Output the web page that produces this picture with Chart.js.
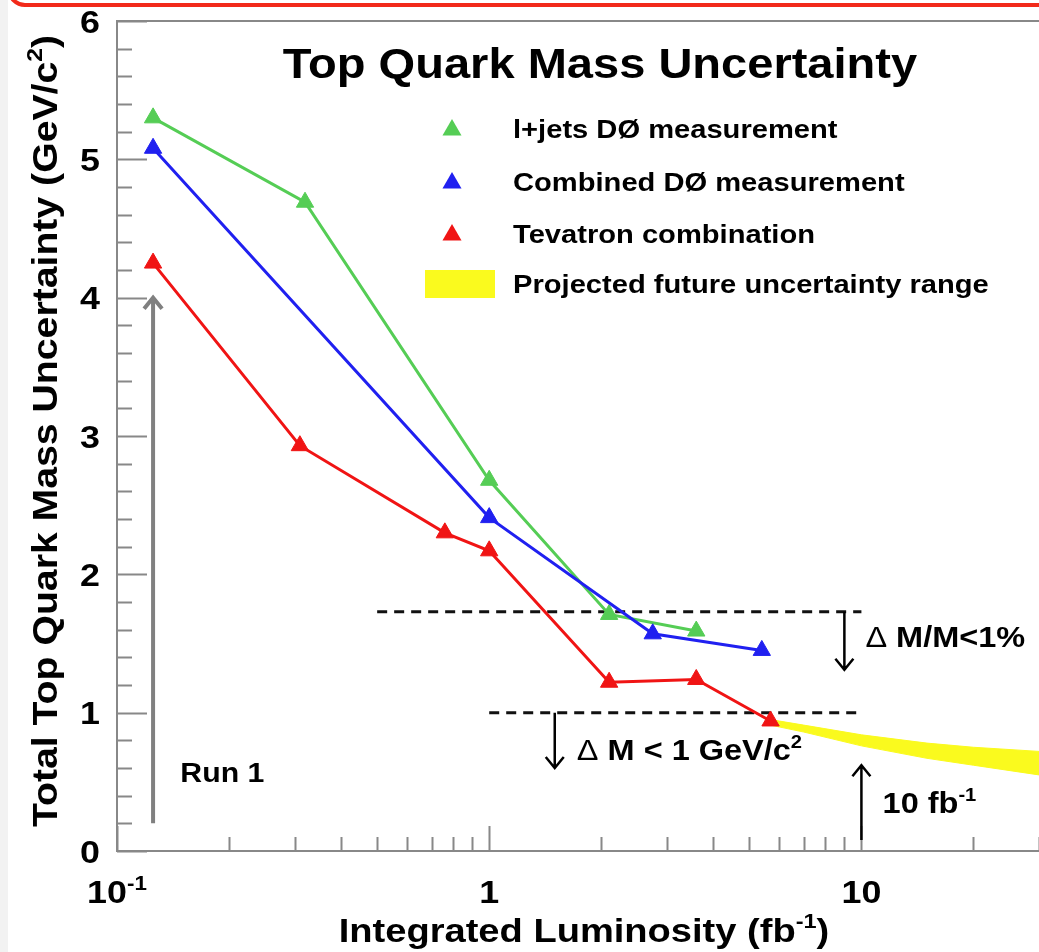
<!DOCTYPE html>
<html>
<head>
<meta charset="utf-8">
<script src="https://cdn.jsdelivr.net/npm/chart.js@4.4.0/dist/chart.umd.min.js"></script>
<style>
  html, body { margin: 0; padding: 0; background: #fff; }
  #wrap { position: relative; width: 1039px; height: 952px; overflow: hidden; }
  #chart { position: absolute; left: 0; top: 0; }
  #edge { position: absolute; left: 0; top: 0; width: 8px; height: 952px; background: #f2f2f2; }
  #frame { position: absolute; left: 7px; top: -60px; width: 1100px; height: 59px;
           border: 4px solid #f22a1a; border-radius: 18px; }
</style>
</head>
<body>
<div id="wrap">
  <canvas id="chart" width="1039" height="952"></canvas>
  <div id="edge"></div>
  <div id="frame"></div>
</div>
<script>
// luminosity (fb^-1) and total uncertainty (GeV/c^2) per measurement
const ljetsLumi = [0.125, 0.32, 1.0, 2.1, 3.6];
const ljetsErr  = [5.30, 4.69, 2.68, 1.71, 1.59];
const combLumi  = [0.125, 1.0, 2.75, 5.4];
const combErr   = [5.08, 2.41, 1.57, 1.45];
const tevLumi   = [0.125, 0.31, 0.76, 1.0, 2.1, 3.6, 5.7];
const tevErr    = [4.25, 2.93, 2.30, 2.17, 1.22, 1.24, 0.94];

// projected band
const bandLumi = [5.7, 7, 10, 15, 20, 30];
const bandHigh = [0.95, 0.91, 0.84, 0.78, 0.75, 0.72];
const bandLow  = [0.91, 0.86, 0.76, 0.67, 0.62, 0.55];

// reference limits
const relLimit = 1.73, relFrom = 0.5;
const absLimit = 1.0,  absFrom = 1.0;
const limitTo = 10;

const seriesNames = ['l+jets DØ measurement', 'Combined DØ measurement',
                     'Tevatron combination', 'Projected future uncertainty range'];
const yTickValues = [0, 1, 2, 3, 4, 5, 6];
const xTickValues = [0.1, 1, 10];
const xTickBase   = ['10', '1', '10'];
const xTickSup    = ['-1', '', ''];

const GREEN = '#55cd55', BLUE = '#2020f0', RED = '#f01414', YELLOW = '#fafa1e';
const FONT = '"Liberation Sans", Arial, Helvetica, sans-serif';
const STRETCH = 1.12;

const pts = (xs, ys) => xs.map((x, i) => ({ x, y: ys[i] }));

function fontOf(kind, size) {
  if (kind === 's') return `bold ${Math.round(size * 0.62)}px ${FONT}`;
  if (kind === 'n') return `${size}px ${FONT}`;
  return `bold ${size}px ${FONT}`;
}

// text made of bold / normal / superscript pieces, y is the baseline
function rich(ctx, parts, x, y, size, align) {
  let w = 0;
  for (const [t, k] of parts) { ctx.font = fontOf(k, size); w += ctx.measureText(t).width; }
  ctx.save();
  ctx.translate(x, y);
  ctx.scale(STRETCH, 1);
  let cx = align === 'center' ? -w / 2 : align === 'right' ? -w : 0;
  ctx.textAlign = 'left';
  ctx.textBaseline = 'alphabetic';
  ctx.fillStyle = '#000';
  for (const [t, k] of parts) {
    ctx.font = fontOf(k, size);
    ctx.fillText(t, cx, k === 's' ? -size * 0.42 : 0);
    cx += ctx.measureText(t).width;
  }
  ctx.restore();
}

function triangle(ctx, x, y, r, color) {
  ctx.fillStyle = color;
  ctx.beginPath();
  ctx.moveTo(x, y - r);
  ctx.lineTo(x + r * 0.866, y + r / 2);
  ctx.lineTo(x - r * 0.866, y + r / 2);
  ctx.closePath();
  ctx.fill();
}

const notes = [
  { at: [0.148, 0.57], size: 27, parts: [['Run 1', 'b']] },
  { at: [10.25, 1.55], size: 29, parts: [['Δ', 'n'], [' M/M<1%', 'b']] },
  { at: [1.72, 0.73],  size: 29, parts: [['Δ', 'n'], [' M < 1 GeV/c', 'b'], ['2', 's']] },
  { at: [11.4, 0.35],  size: 29, parts: [['10 fb', 'b'], ['-1', 's']] }
];

const arrows = [
  { x: 0.125, from: 0.2,  to: 4.0,  color: '#808080', width: 4 },
  { x: 9.0,   from: 1.73, to: 1.31, color: '#000', width: 2.5 },
  { x: 1.5,   from: 1.0,  to: 0.60, color: '#000', width: 2.5 },
  { x: 10,    from: 0.08, to: 0.62, color: '#000', width: 2.5 }
];

const decor = {
  id: 'decor',
  afterDraw(chart) {
    const { ctx, chartArea: a, scales: { x, y } } = chart;
    ctx.save();

    // axes frame
    ctx.strokeStyle = '#888';
    ctx.lineWidth = 2;
    ctx.beginPath();
    ctx.moveTo(a.right, a.top);
    ctx.lineTo(a.left, a.top);
    ctx.lineTo(a.left, a.bottom);
    ctx.lineTo(a.right, a.bottom);
    ctx.stroke();

    // inward ticks
    ctx.beginPath();
    for (let i = 0; i <= 30; i++) {
      const py = Math.round(y.getPixelForValue(i / 5)) + 0.5;
      const len = i % 5 === 0 ? 30 : 15;
      ctx.moveTo(a.left, py);
      ctx.lineTo(a.left + len, py);
    }
    for (const d of [0.1, 1, 10]) {
      for (let k = 1; k <= 9; k++) {
        const v = k * d;
        if (v > x.max) break;
        const px = Math.round(x.getPixelForValue(v)) + 0.5;
        ctx.moveTo(px, a.bottom);
        ctx.lineTo(px, a.bottom - (k === 1 ? 25 : 14));
      }
    }
    ctx.stroke();

    // tick labels
    yTickValues.forEach(v => rich(ctx, [[String(v), 'b']], 100, y.getPixelForValue(v) + 11.5, 32, 'right'));
    xTickValues.forEach((v, i) => {
      const parts = [[xTickBase[i], 'b']];
      if (xTickSup[i]) parts.push([xTickSup[i], 's']);
      rich(ctx, parts, x.getPixelForValue(v), 903, 32, 'center');
    });

    // axis titles
    rich(ctx, [['Integrated Luminosity (fb', 'b'], ['-1', 's'], [')', 'b']], 584, 942, 34, 'center');
    ctx.save();
    ctx.translate(57, 431);
    ctx.rotate(-Math.PI / 2);
    rich(ctx, [['Total Top Quark Mass Uncertainty (GeV/c', 'b'], ['2', 's'], [')', 'b']], 0, 0, 35, 'center');
    ctx.restore();

    // title
    rich(ctx, [['Top Quark Mass Uncertainty', 'b']], 600, 78, 42, 'center');

    // legend
    const rows = [128, 181, 233, 283];
    [GREEN, BLUE, RED].forEach((c, i) => triangle(ctx, 452, rows[i] + 2, 11, c));
    ctx.fillStyle = YELLOW;
    ctx.fillRect(425, 270, 70, 28);
    seriesNames.forEach((n, i) => rich(ctx, [[n, 'b']], 513, rows[i] + 10, 26, 'left'));

    // arrows
    for (const ar of arrows) {
      const px = x.getPixelForValue(ar.x);
      const y0 = y.getPixelForValue(ar.from), y1 = y.getPixelForValue(ar.to);
      const dir = y1 < y0 ? 1 : -1;
      ctx.strokeStyle = ar.color;
      ctx.lineWidth = ar.width;
      ctx.beginPath();
      ctx.moveTo(px, y0);
      ctx.lineTo(px, y1);
      ctx.moveTo(px - 9, y1 + dir * 11);
      ctx.lineTo(px, y1);
      ctx.lineTo(px + 9, y1 + dir * 11);
      ctx.stroke();
    }

    // annotations
    for (const n of notes) {
      rich(ctx, n.parts, x.getPixelForValue(n.at[0]), y.getPixelForValue(n.at[1]) + n.size * 0.36, n.size, 'left');
    }
    ctx.restore();
  }
};

const marker = c => ({
  borderColor: c, backgroundColor: c, borderWidth: 3,
  pointStyle: 'triangle', pointRadius: 10, pointHoverRadius: 10,
  pointBackgroundColor: c, pointBorderColor: c, pointBorderWidth: 1, tension: 0, fill: false
});
const plain = { pointRadius: 0, pointHoverRadius: 0, tension: 0 };

const datasets = [
  { label: seriesNames[2], data: pts(tevLumi, tevErr), ...marker(RED) },
  { label: seriesNames[1], data: pts(combLumi, combErr), ...marker(BLUE) },
  { label: seriesNames[0], data: pts(ljetsLumi, ljetsErr), ...marker(GREEN) },
  { label: 'relative limit', data: [{ x: relFrom, y: relLimit }, { x: limitTo, y: relLimit }],
    borderColor: '#111', borderWidth: 3, borderDash: [10, 7], fill: false, ...plain },
  { label: 'absolute limit', data: [{ x: absFrom, y: absLimit }, { x: limitTo, y: absLimit }],
    borderColor: '#111', borderWidth: 3, borderDash: [10, 7], fill: false, ...plain },
  { label: 'band high', data: pts(bandLumi, bandHigh), borderColor: YELLOW, borderWidth: 1, fill: false, ...plain },
  { label: seriesNames[3], data: pts(bandLumi, bandLow), borderColor: YELLOW, borderWidth: 1,
    backgroundColor: YELLOW, fill: '-1', ...plain }
];

new Chart(document.getElementById('chart'), {
  type: 'line',
  data: { datasets },
  options: {
    responsive: false,
    animation: false,
    devicePixelRatio: 1,
    layout: { autoPadding: false, padding: { top: 21, left: 0, right: 0, bottom: 0 } },
    plugins: { legend: { display: false }, tooltip: { enabled: false }, title: { display: false } },
    scales: {
      x: {
        type: 'logarithmic', min: 0.1, max: 30,
        grid: { display: false }, border: { display: false }, ticks: { display: false },
        afterFit: s => { s.height = 101; }
      },
      y: {
        min: 0, max: 6,
        grid: { display: false }, border: { display: false }, ticks: { display: false },
        afterFit: s => { s.width = 117; }
      }
    }
  },
  plugins: [decor]
});
</script>
</body>
</html>
